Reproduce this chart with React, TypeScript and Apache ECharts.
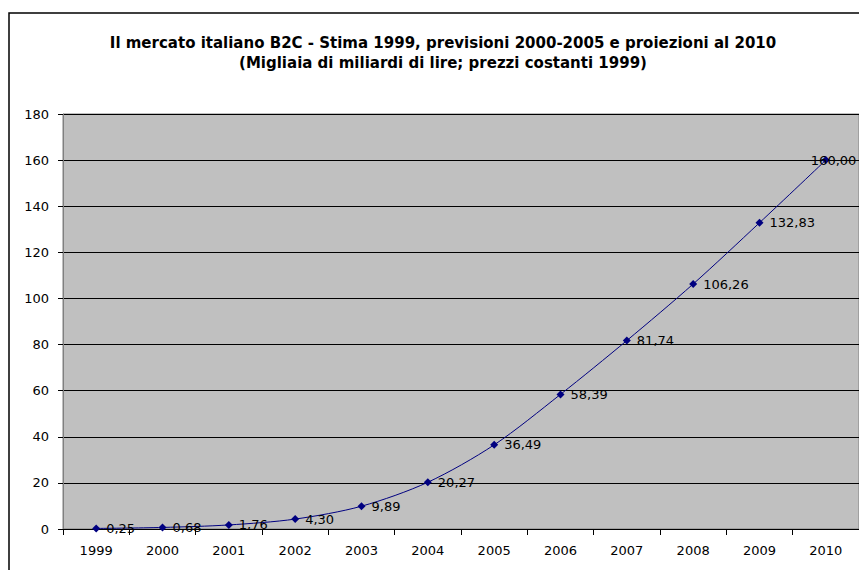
import React, { useEffect, useRef } from "react";
import * as echarts from "echarts";

const categories = ["1999", "2000", "2001", "2002", "2003", "2004", "2005", "2006", "2007", "2008", "2009", "2010"];
const values = [0.25, 0.68, 1.76, 4.3, 9.89, 20.27, 36.49, 58.39, 81.74, 106.26, 132.83, 160.0];
const titleLines = [
  "Il mercato italiano B2C - Stima 1999, previsioni 2000-2005 e proiezioni al 2010",
  "(Migliaia di miliardi di lire; prezzi costanti 1999)",
];

const FONT = "DejaVu Sans";

export default function App() {
  const ref = useRef<HTMLDivElement>(null);
  useEffect(() => {
    if (!ref.current) return;
    const chart = echarts.init(ref.current, undefined, { renderer: "svg" });
    const lastIdx = values.length - 1;
    chart.setOption({
      animation: false,
      backgroundColor: "#ffffff",
      title: {
        text: titleLines.join("\n"),
        left: 438,
        top: 28,
        textAlign: "center",
        textStyle: {
          fontFamily: FONT,
          fontSize: 15,
          fontWeight: "bold",
          color: "#000",
          lineHeight: 20,
        },
      },
      graphic: [
        {
          type: "rect",
          shape: { x: 9, y: 13, width: 900, height: 600 },
          style: { fill: "none", stroke: "#000", lineWidth: 1.5 },
          z: 100,
        },
      ],
      grid: {
        left: 63,
        top: 114,
        width: 799,
        height: 415,
        show: true,
        backgroundColor: "#C0C0C0",
        borderColor: "#808080",
        borderWidth: 1,
      },
      xAxis: {
        type: "category",
        data: categories,
        boundaryGap: true,
        axisLine: { show: true, lineStyle: { color: "#000", width: 1 } },
        axisTick: { show: true, length: 6, lineStyle: { color: "#000" } },
        axisLabel: { color: "#000", fontFamily: FONT, fontSize: 13, margin: 15 },
        splitLine: { show: false },
      },
      yAxis: {
        type: "value",
        min: 0,
        max: 180,
        interval: 20,
        axisLine: { show: true, lineStyle: { color: "#808080", width: 1 } },
        axisTick: { show: true, length: 5, lineStyle: { color: "#000" } },
        axisLabel: { color: "#000", fontFamily: FONT, fontSize: 13, margin: 14 },
        splitLine: { show: true, lineStyle: { color: "#000", width: 1 } },
      },
      series: [
        {
          type: "line",
          data: values.map((v, i) =>
            i === lastIdx
              ? { value: v, label: { distance: 0, offset: [-19, 0] } }
              : v
          ),
          smooth: 0.3,
          symbol: "diamond",
          symbolSize: 8,
          itemStyle: { color: "#000080" },
          lineStyle: { color: "#000080", width: 1 },
          label: {
            show: true,
            position: "right",
            distance: 6,
            color: "#000",
            fontFamily: FONT,
            fontSize: 13,
            formatter: (p: any) => Number(p.value).toFixed(2).replace(".", ","),
          },
        },
      ],
    });
    return () => chart.dispose();
  }, []);
  return (
    <div
      ref={ref}
      style={{ position: "fixed", left: 0, top: 0, width: 859, height: 570 }}
    />
  );
}
